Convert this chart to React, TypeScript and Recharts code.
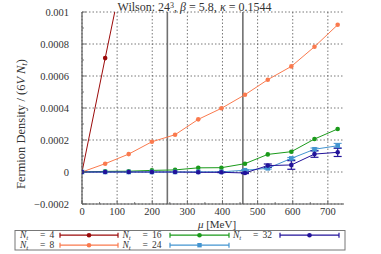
import React from 'react';
import { ComposedChart, Line, XAxis, YAxis, CartesianGrid, ReferenceLine, ErrorBar } from 'recharts';

const mu = [0, 66, 133, 199, 265, 331, 397, 464, 529, 596, 662, 728];
const nt4 = [0, 0.000712, 0.00142, null, null, null, null, null, null, null, null, null];
const nt8 = [0, 0.000052, 0.000112, 0.000189, 0.000233, 0.000329, 0.000398, 0.000483, 0.000577, 0.00066, 0.000783, 0.00092];
const nt16 = [0, 0.000004, 0.000005, 0.00001, 0.000013, 0.000026, 0.000027, 0.000052, 0.00011, 0.000127, 0.000206, 0.000269];
const nt24 = [0, 0, 0, 0, 0, 0.000001, 0.000001, 0.000011, 0.000023, 0.000085, 0.000142, 0.000164];
const err24 = [0, 0, 0, 0, 0, 0, 0, 0.000003, 0.000005, 0.000006, 0.000008, 0.000015];
const nt32 = [0, 0, 0, 0, 0, -0.000002, -0.000002, -0.000006, 0.00004, 0.000044, 0.000112, 0.000123];
const err32 = [0, 0, 0, 0, 0, 0, 0.000002, 0.000004, 0.00001, 0.000027, 0.00002, 0.000026];

const seriesNt = ['4', '8', '16', '24', '32'];
const seriesColors = ['#9b0a0a', '#fa7a4e', '#1a9a1a', '#4394d0', '#22129a'];

const markerLines = [243, 458];

const xMajorTicks = [0, 100, 200, 300, 400, 500, 600, 700];
const xMinorTicks = [50, 150, 250, 350, 450, 550, 650];
const yMajorTicks = [-0.0002, 0, 0.0002, 0.0004, 0.0006, 0.0008, 0.001];
const yMajorLabels = ['\u22120.0002', '0', '0.0002', '0.0004', '0.0006', '0.0008', '0.001'];
const yMinorTicks = [-0.0001, 0.0001, 0.0003, 0.0005, 0.0007, 0.0009];

const rows = mu.map((m, i) => ({
  mu: m,
  n4: nt4[i],
  n8: nt8[i],
  n16: nt16[i],
  n24: nt24[i],
  e24: err24[i],
  n32: nt32[i],
  e32: err32[i],
}));

const FONT = '"Liberation Serif", "DejaVu Serif", serif';
const AXIS = '#5a5a5a';
const xDomain = [0, 746];
const yDomain = [-0.0002, 0.001];
const xTicks = [...xMajorTicks, ...xMinorTicks].sort((a, b) => a - b);
const yTicks = [...yMajorTicks, ...yMinorTicks].sort((a, b) => a - b);

const isMajorX = (v: number) => xMajorTicks.some((t) => Math.abs(t - v) < 1e-9);
const yLabel = (v: number) => {
  const i = yMajorTicks.findIndex((t) => Math.abs(t - v) < 1e-12);
  return i >= 0 ? yMajorLabels[i] : null;
};

const XTick = (props: any) => {
  const { x, y, payload } = props;
  const major = isMajorX(payload.value);
  return (
    <g>
      <line x1={x} x2={x} y1={y} y2={y - (major ? 4 : 2)} stroke={AXIS} strokeWidth={0.8} />
      {major && (
        <text x={x} y={y + 11} textAnchor="middle" fontFamily={FONT} fontSize={10.5} fill="#333">
          {payload.value}
        </text>
      )}
    </g>
  );
};

const XTopTick = (props: any) => {
  const { x, y, payload } = props;
  const major = isMajorX(payload.value);
  return <line x1={x} x2={x} y1={y} y2={y + (major ? 4 : 2)} stroke={AXIS} strokeWidth={0.8} />;
};

const YTick = (props: any) => {
  const { x, y, payload } = props;
  const lab = yLabel(payload.value);
  return (
    <g>
      <line x1={x} x2={x + (lab ? 4 : 2)} y1={y} y2={y} stroke={AXIS} strokeWidth={0.8} />
      {lab && (
        <text x={x - 13} y={y + 3.5} textAnchor="end" fontFamily={FONT} fontSize={10.5} fill="#333">
          {lab}
        </text>
      )}
    </g>
  );
};

const YRightTick = (props: any) => {
  const { x, y, payload } = props;
  const lab = yLabel(payload.value);
  return <line x1={x} x2={x - (lab ? 4 : 2)} y1={y} y2={y} stroke={AXIS} strokeWidth={0.8} />;
};

const SquareDot = (props: any) => {
  const { cx, cy, stroke, index } = props;
  if (cx == null || cy == null || isNaN(cy)) return <g key={`sq-${index}`} />;
  return <rect key={`sq-${index}`} x={cx - 2.3} y={cy - 2.3} width={4.6} height={4.6} fill={stroke} />;
};

const NtText = ({ x, y, nt }: { x: number; y: number; nt: string }) => (
  <g fontFamily={FONT} fill="#333">
    <text x={x} y={y} fontSize={9.5}>
      <tspan fontStyle="italic">N</tspan>
      <tspan fontStyle="italic" fontSize={7} dy={1.5}>t</tspan>
    </text>
    <text x={x + 20} y={y} fontSize={9.5}>=</text>
    <text x={x + 29.5} y={y} fontSize={9.5}>{nt}</text>
  </g>
);

const legendCols = [
  { tx: 20, lx1: 60, lx2: 118 },
  { tx: 122.5, lx1: 170, lx2: 229 },
  { tx: 233, lx1: 280, lx2: 339 },
];
const legendRowsY = [235.2, 245.2];

export default function App() {
  return (
    <div style={{ position: 'absolute', left: 0, top: 0, width: 381, height: 254, background: '#fff' }}>
      <ComposedChart width={381} height={254} data={rows} margin={{ top: 12, right: 37, bottom: 28, left: 0 }}>
        <CartesianGrid
          stroke="#555"
          strokeDasharray="1.5 2"
          strokeWidth={0.8}
          horizontalValues={yMajorTicks}
          verticalValues={xMajorTicks}
        />
        <XAxis
          dataKey="mu"
          type="number"
          domain={xDomain}
          allowDataOverflow
          ticks={xTicks}
          interval={0}
          tickSize={0}
          tickMargin={0}
          tickLine={false}
          tick={<XTick />}
          height={22}
          axisLine={{ stroke: AXIS, strokeWidth: 1.2 }}
        />
        <XAxis
          xAxisId="top"
          orientation="top"
          dataKey="mu"
          type="number"
          domain={xDomain}
          allowDataOverflow
          ticks={xTicks}
          interval={0}
          tickSize={0}
          tickMargin={0}
          tickLine={false}
          tick={<XTopTick />}
          height={0}
          axisLine={{ stroke: AXIS, strokeWidth: 1.2 }}
        />
        <YAxis
          type="number"
          domain={yDomain}
          allowDataOverflow
          ticks={yTicks}
          interval={0}
          tickSize={0}
          tickMargin={0}
          tickLine={false}
          tick={<YTick />}
          width={82}
          axisLine={{ stroke: AXIS, strokeWidth: 1.2 }}
        />
        <YAxis
          yAxisId="right"
          orientation="right"
          type="number"
          domain={yDomain}
          allowDataOverflow
          ticks={yTicks}
          interval={0}
          tickSize={0}
          tickMargin={0}
          tickLine={false}
          tick={<YRightTick />}
          width={0}
          axisLine={{ stroke: AXIS, strokeWidth: 1.2 }}
        />
        {markerLines.map((v) => (
          <ReferenceLine key={v} x={v} stroke="#707070" strokeWidth={1.6} />
        ))}
        <Line dataKey="n4" stroke={seriesColors[0]} strokeWidth={1} isAnimationActive={false}
          dot={{ r: 2.3, fill: seriesColors[0], stroke: seriesColors[0], strokeWidth: 0 }} />
        <Line dataKey="n8" stroke={seriesColors[1]} strokeWidth={1} isAnimationActive={false}
          dot={{ r: 2.3, fill: seriesColors[1], stroke: seriesColors[1], strokeWidth: 0 }} />
        <Line dataKey="n16" stroke={seriesColors[2]} strokeWidth={1} isAnimationActive={false}
          dot={{ r: 2.3, fill: seriesColors[2], stroke: seriesColors[2], strokeWidth: 0 }} />
        <Line dataKey="n24" stroke={seriesColors[3]} strokeWidth={1} isAnimationActive={false} dot={<SquareDot />}>
          <ErrorBar dataKey="e24" direction="y" width={4} stroke={seriesColors[3]} strokeWidth={1} />
        </Line>
        <Line dataKey="n32" stroke={seriesColors[4]} strokeWidth={1} isAnimationActive={false}
          dot={{ r: 2.3, fill: seriesColors[4], stroke: seriesColors[4], strokeWidth: 0 }}>
          <ErrorBar dataKey="e32" direction="y" width={4} stroke={seriesColors[4]} strokeWidth={1.2} />
        </Line>
      </ComposedChart>
      <svg width={381} height={254} style={{ position: 'absolute', left: 0, top: 0, pointerEvents: 'none' }}>
        <text x={194.5} y={11} textAnchor="middle" fontFamily={FONT} fontSize={12} fill="#333">
          <tspan>Wilson: 24</tspan>
          <tspan fontSize={8} dy={-3.5}>3</tspan>
          <tspan dy={3.5}>, </tspan>
          <tspan fontStyle="italic">β</tspan>
          <tspan> = 5.8, </tspan>
          <tspan fontStyle="italic">κ</tspan>
          <tspan> = 0.1544</tspan>
        </text>
        <text x={0} y={0} transform="translate(25,124) rotate(-90)" textAnchor="middle" fontFamily={FONT} fontSize={12.5} fill="#333">
          <tspan>Fermion Density / (6</tspan>
          <tspan fontStyle="italic">V N</tspan>
          <tspan fontStyle="italic" fontSize={9} dy={2}>t</tspan>
          <tspan dy={-2}>)</tspan>
        </text>
        <text x={217} y={227.5} textAnchor="middle" fontFamily={FONT} fontSize={11} fill="#333">
          <tspan fontStyle="italic">μ</tspan>
          <tspan> [MeV]</tspan>
        </text>
        <rect x={15} y={230.5} width={330} height={19.5} fill="none" stroke="#777" strokeWidth={1} />
        {seriesNt.map((nt, i) => {
          const col = legendCols[Math.floor(i / 2)];
          const ly = legendRowsY[i % 2];
          const c = seriesColors[i];
          const mid = (col.lx1 + col.lx2) / 2;
          return (
            <g key={nt}>
              <NtText x={col.tx} y={ly + 2.8} nt={nt} />
              <line x1={col.lx1} x2={col.lx2} y1={ly} y2={ly} stroke={c} strokeWidth={1.2} />
              <line x1={col.lx1} x2={col.lx1} y1={ly - 2.5} y2={ly + 2.5} stroke={c} strokeWidth={1.2} />
              <line x1={col.lx2} x2={col.lx2} y1={ly - 2.5} y2={ly + 2.5} stroke={c} strokeWidth={1.2} />
              {i === 3 ? (
                <rect x={mid - 2.2} y={ly - 2.2} width={4.4} height={4.4} fill={c} />
              ) : (
                <circle cx={mid} cy={ly} r={2.3} fill={c} />
              )}
            </g>
          );
        })}
      </svg>
    </div>
  );
}
